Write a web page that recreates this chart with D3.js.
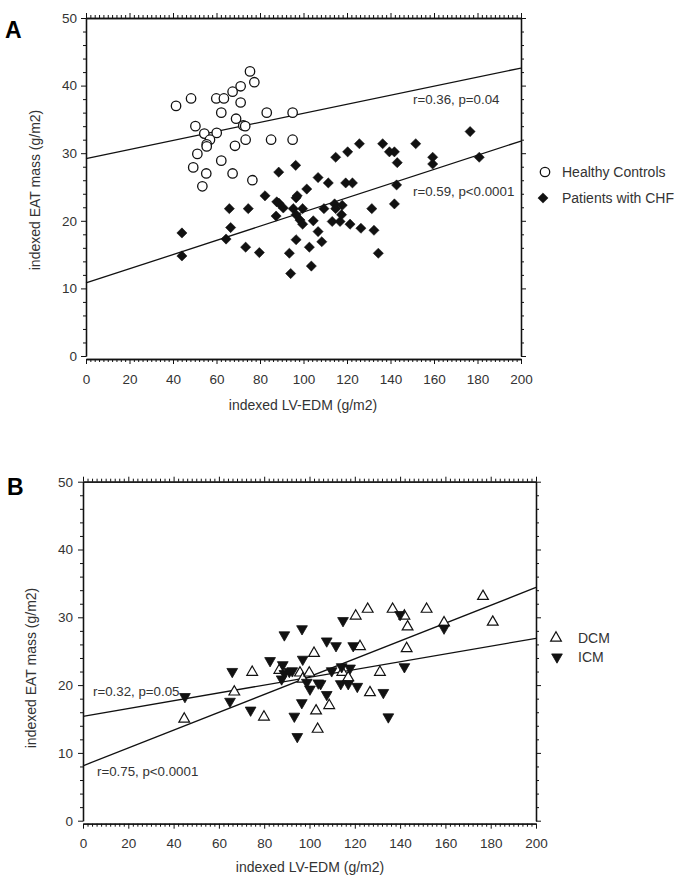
<!DOCTYPE html>
<html><head><meta charset="utf-8">
<script src="https://cdn.jsdelivr.net/npm/d3@7"></script>
<style>
body{margin:0;background:#fff}
svg{display:block}
text{font-family:"Liberation Sans",Arial,sans-serif}
</style>
</head><body><div id="chart"></div>
<script>
// ---------- data ----------
const xMajorTicks = [0,20,40,60,80,100,120,140,160,180,200];
const yMajorTicks = [0,10,20,30,40,50];
const xTitle = "indexed LV-EDM (g/m2)";
const yTitle = "indexed EAT mass (g/m2)";

// Panel A
const healthyControls = [
  [41.4,37.0],[48.3,38.1],[59.9,38.1],[63.4,38.1],[67.4,39.1],[71.1,39.9],[75.4,42.1],[77.4,40.5],
  [71.1,37.5],[62.2,36.0],[69.0,35.1],[72.3,34.1],[73.2,34.0],[50.3,34.0],[54.4,32.9],[60.1,33.0],
  [57.0,32.0],[55.5,31.3],[55.5,31.0],[68.5,31.1],[73.4,32.0],[83.1,36.0],[95.0,36.0],[85.1,32.0],
  [95.0,32.0],[51.2,29.9],[62.2,28.9],[49.3,27.9],[55.3,27.0],[67.4,27.0],[76.5,26.0],[53.5,25.1]
];
const chfPatients = [
  [44.1,18.2],[44.1,14.8],[64.4,17.3],[65.9,21.8],[66.5,19.0],[73.4,16.1],[74.6,21.8],[79.7,15.3],
  [82.3,23.7],[87.4,20.7],[87.7,22.8],[88.7,22.6],[88.6,27.2],[90.7,21.9],[93.5,15.2],[94.1,12.2],
  [95.3,21.8],[96.4,28.2],[96.6,23.4],[97.1,23.7],[96.6,20.9],[96.6,17.2],[98.4,20.1],[99.6,21.8],
  [99.6,19.5],[101.5,24.7],[102.7,16.1],[103.6,13.3],[104.5,20.0],[106.7,26.4],[106.7,18.4],[108.4,16.9],
  [109.4,21.8],[111.4,25.6],[113.2,19.9],[114.3,22.5],[114.8,21.8],[114.8,29.4],[116.8,19.9],[117.5,20.9],
  [117.8,22.3],[119.4,25.6],[120.3,30.2],[121.4,19.5],[122.5,25.6],[125.7,31.4],[126.4,18.9],[131.4,21.8],
  [132.4,18.6],[134.4,15.2],[136.4,31.4],[139.5,30.2],[141.8,30.2],[141.8,22.5],[142.8,25.3],[143.1,28.6],
  [151.6,31.4],[159.4,29.4],[159.4,28.4],[176.6,33.2],[180.8,29.4]
];
const healthyFit = [[0,29.2],[200,42.6]];
const chfFit = [[0,10.8],[200,31.8]];
const healthyStat = "r=0.36, p=0.04";
const chfStat = "r=0.59, p<0.0001";
const legendA = ["Healthy Controls","Patients with CHF"];

// Panel B
const dcmPatients = [
  [44.7,15.0],[66.8,19.0],[74.7,21.9],[79.9,15.3],[86.7,22.2],[95.8,21.8],[97.0,20.9],[99.9,21.8],
  [102.0,24.7],[102.9,16.2],[103.6,13.5],[108.7,17.0],[114.5,21.9],[117.1,21.1],[120.4,30.2],[122.3,25.7],
  [125.7,31.2],[126.7,18.9],[131.1,21.9],[136.7,31.2],[141.9,30.2],[142.9,25.4],[143.3,28.6],[151.7,31.2],
  [159.4,29.2],[176.6,33.1],[180.9,29.3]
];
const icmPatients = [
  [45.0,18.3],[64.9,17.6],[65.9,22.0],[74.0,16.3],[82.6,23.6],[87.7,20.9],[88.2,23.0],[88.9,21.7],
  [88.9,27.4],[91.1,22.0],[92.4,22.1],[93.3,15.4],[94.6,12.4],[96.6,17.4],[96.7,28.3],[97.0,23.8],
  [98.8,20.4],[100.2,19.4],[103.9,20.3],[104.9,20.2],[107.6,26.5],[107.6,18.6],[109.8,22.1],[111.7,25.8],
  [113.8,20.2],[114.2,22.7],[114.8,29.5],[117.1,20.2],[117.9,22.5],[119.3,25.8],[121.1,19.8],[132.6,18.9],
  [134.8,15.3],[140.0,30.4],[141.9,22.7],[159.4,28.4]
];
const dcmFit = [[0,8.1],[200,34.4]];
const icmFit = [[0,15.4],[200,26.9]];
const icmStat = "r=0.32, p=0.05";
const dcmStat = "r=0.75, p<0.0001";
const legendB = ["DCM","ICM"];

// ---------- drawing ----------
const W = 685, H = 887;
const svg = d3.select("#chart").append("svg").attr("width", W).attr("height", H);
const INK = "#111", TXT = "#333";

const symCircle = d3.symbol(d3.symbolCircle, 70)();
const symDiamond = d3.symbol(d3.symbolSquare, 52)();
const symTri = d3.symbol(d3.symbolTriangle, 50)();

const markers = {
  circle:  {d: symCircle, rot: 0, fill: "#fff", stroke: INK, sw: 1.3},
  diamond: {d: symDiamond, rot: 45, fill: INK, stroke: INK, sw: 0.5},
  triUp:   {d: symTri, rot: 0, fill: "#fff", stroke: INK, sw: 1.2},
  triDown: {d: symTri, rot: 180, fill: INK, stroke: INK, sw: 0.8}
};

function drawPanel(p) {
  const x = d3.scaleLinear().domain([0,200]).range(p.xr);
  const y = d3.scaleLinear().domain([0,50]).range(p.yr);
  const g = svg.append("g");
  const xMinor = d3.range(0, 201, 2).filter(v => v % 20);
  const yMinor = d3.range(0, 51, 2).filter(v => v % 10);
  const xb = p.yr[0] + 3;

  function styleAxis(sel) {
    sel.select(".domain").attr("stroke", INK).attr("stroke-width", 1.3);
    sel.selectAll(".tick line").attr("stroke", INK).attr("stroke-width", 1);
    sel.selectAll("text").attr("fill", TXT).style("font-size", "13.5px").style("font-family", '"Liberation Sans",Arial,sans-serif');
  }
  // left
  g.append("g").attr("transform", `translate(${p.xr[0]},0)`)
    .call(d3.axisLeft(y).tickValues(yMinor).tickSize(3).tickFormat("").tickSizeOuter(0)).call(styleAxis);
  g.append("g").attr("transform", `translate(${p.xr[0]},0)`)
    .call(d3.axisLeft(y).tickValues(yMajorTicks).tickSize(5).tickPadding(p.yPad).tickSizeOuter(0)).call(styleAxis);
  // right
  g.append("g").attr("transform", `translate(${p.xr[1]},0)`)
    .call(d3.axisRight(y).tickValues(yMinor).tickSize(3).tickFormat("").tickSizeOuter(0)).call(styleAxis);
  g.append("g").attr("transform", `translate(${p.xr[1]},0)`)
    .call(d3.axisRight(y).tickValues(yMajorTicks).tickSize(5).tickFormat("").tickSizeOuter(0)).call(styleAxis);
  // top
  g.append("g").attr("transform", `translate(0,${p.yr[1]})`)
    .call(d3.axisTop(x).tickValues(xMinor).tickSize(3).tickFormat("").tickSizeOuter(0)).call(styleAxis);
  g.append("g").attr("transform", `translate(0,${p.yr[1]})`)
    .call(d3.axisTop(x).tickValues(xMajorTicks).tickSize(5).tickFormat("").tickSizeOuter(0)).call(styleAxis);
  // bottom
  g.append("g").attr("transform", `translate(0,${xb})`)
    .call(d3.axisBottom(x).tickValues(xMinor).tickSize(3).tickFormat("").tickSizeOuter(0)).call(styleAxis);
  g.append("g").attr("transform", `translate(0,${xb})`)
    .call(d3.axisBottom(x).tickValues(xMajorTicks).tickSize(5).tickPadding(p.xPad).tickSizeOuter(0)).call(styleAxis);

  // titles
  g.append("text").attr("x", p.xTitle[0]).attr("y", p.xTitle[1]).attr("text-anchor", "middle")
    .attr("fill", TXT).style("font-size", "14px").text(xTitle);
  g.append("text").attr("transform", `translate(${p.yTitle[0]},${p.yTitle[1]}) rotate(-90)`)
    .attr("text-anchor", "middle").attr("fill", TXT).style("font-size", "14px").text(yTitle);
  g.append("text").attr("x", p.letter[0]).attr("y", p.letter[1]).attr("fill", "#000")
    .style("font-size", "23px").style("font-weight", "bold").text(p.letterText);

  // fit lines
  const line = d3.line().x(d => x(d[0])).y(d => y(d[1]));
  p.fits.forEach(f => g.append("path").datum(f).attr("d", line).attr("fill", "none")
    .attr("stroke", INK).attr("stroke-width", 1.3));

  // points
  p.series.forEach(s => {
    const m = markers[s.marker];
    g.append("g").selectAll("path").data(s.data).join("path")
      .attr("d", m.d)
      .attr("transform", d => `translate(${x(d[0])},${y(d[1])}) rotate(${m.rot})`)
      .attr("fill", m.fill).attr("stroke", m.stroke).attr("stroke-width", m.sw);
  });

  // stats
  p.stats.forEach(s => g.append("text").attr("x", s.x).attr("y", s.y).attr("fill", TXT)
    .style("font-size", "13.3px").text(s.t));

  // legend
  p.legend.forEach(l => {
    const m = markers[l.marker];
    g.append("path").attr("d", m.d).attr("transform", `translate(${l.mx},${l.y}) rotate(${m.rot})`)
      .attr("fill", m.fill).attr("stroke", m.stroke).attr("stroke-width", m.sw);
    g.append("text").attr("x", l.tx).attr("y", l.y).attr("dy", "0.35em").attr("fill", TXT)
      .style("font-size", "14px").text(l.t);
  });
}

drawPanel({
  xr: [86, 521], yr: [356, 18], yPad: 4, xPad: 10,
  xTitle: [303, 410], yTitle: [40, 190], letter: [5, 38], letterText: "A",
  fits: [healthyFit, chfFit],
  series: [{data: healthyControls, marker: "circle"}, {data: chfPatients, marker: "diamond"}],
  stats: [{x: 413, y: 104, t: healthyStat}, {x: 413, y: 196, t: chfStat}],
  legend: [{marker: "circle", mx: 545, tx: 562, y: 172, t: legendA[0]},
           {marker: "diamond", mx: 543, tx: 562, y: 198, t: legendA[1]}]
});

drawPanel({
  xr: [83, 536], yr: [820.7, 481.7], yPad: 5, xPad: 10,
  xTitle: [310, 872], yTitle: [36, 668], letter: [7, 495], letterText: "B",
  fits: [icmFit, dcmFit],
  series: [{data: dcmPatients, marker: "triUp"}, {data: icmPatients, marker: "triDown"}],
  stats: [{x: 93, y: 696, t: icmStat}, {x: 97, y: 776, t: dcmStat}],
  legend: [{marker: "triUp", mx: 556, tx: 578, y: 638, t: legendB[0]},
           {marker: "triDown", mx: 557, tx: 578, y: 657, t: legendB[1]}]
});
</script>
</body></html>
